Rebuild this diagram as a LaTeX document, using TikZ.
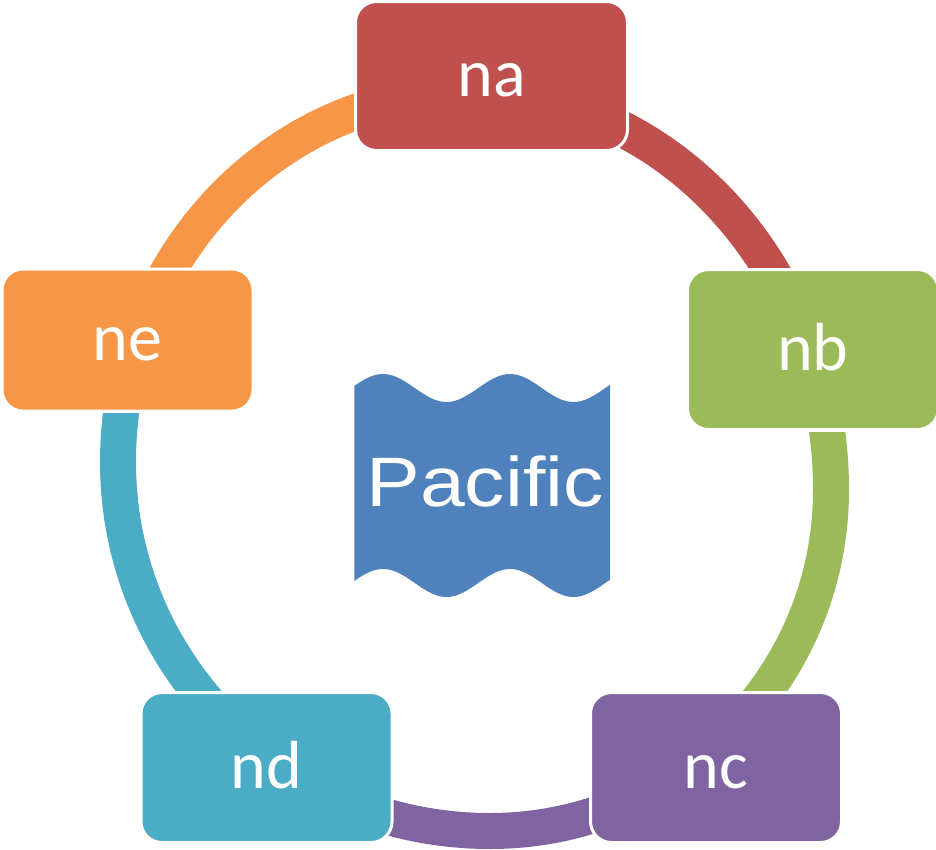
\documentclass[tikz,border=0pt]{standalone}
\usepackage{fontspec}
\setmainfont{Carlito}
\newfontfamily\pacfont{Liberation Sans}
\definecolor{cRed}{HTML}{C0504D}
\definecolor{cGreen}{HTML}{9BBB59}
\definecolor{cPurple}{HTML}{8064A2}
\definecolor{cAqua}{HTML}{4BACC6}
\definecolor{cOrange}{HTML}{F79646}
\definecolor{cBlue}{HTML}{4F81BD}
\newcommand\ringdraw[1]{\draw[band,#1] (470,92) .. controls (669.4,92) and (831,270.2) .. (831,490)
  .. controls (831,678.3) and (678.3,831) .. (490,831)
  .. controls (284.5,831) and (118,665.8) .. (118,462)
  .. controls (118,257.6) and (275.6,92) .. (470,92) -- cycle;}
\begin{document}
\begin{tikzpicture}[x=1pt,y=-1pt,
  cyclebox/.style={rounded corners=21pt, draw=white, line width=3pt, inner sep=0pt, outer sep=0pt,
    text=white, font=\fontsize{68}{72}\selectfont, text height=41pt, text depth=0pt},
  band/.style={line width=36pt}]
\useasboundingbox (0,0) rectangle (936,849);
% ring segments
\begin{scope}\clip (491,-20) rectangle (960,267); \ringdraw{cRed}\end{scope}
\begin{scope}\clip (473,432) rectangle (960,690); \ringdraw{cGreen}\end{scope}
\begin{scope}\clip (-20,700) rectangle (960,880); \ringdraw{cPurple}\end{scope}
\begin{scope}\clip (-20,413) rectangle (473,690); \ringdraw{cAqua}\end{scope}
\begin{scope}\clip (-20,-20) rectangle (491,267); \ringdraw{cOrange}\end{scope}
% boxes
\node[cyclebox, fill=cRed, minimum width=272pt, minimum height=149pt] (na) at (491.5,76) {na};
\node[cyclebox, fill=cGreen, minimum width=251pt, minimum height=160pt] (nb) at (813,349.5) {nb};
\node[cyclebox, fill=cPurple, minimum width=251pt, minimum height=150pt] (nc) at (716,767.5) {nc};
\node[cyclebox, fill=cAqua, minimum width=251pt, minimum height=150pt] (nd) at (266.5,767.5) {nd};
\node[cyclebox, fill=cOrange, minimum width=251pt, minimum height=142pt] (ne) at (127.5,340) {ne};
% centre wave banner
\fill[cBlue] plot[domain=354.3:610, samples=80] (\x,{388-14*cos(2.83465*(\x-383))})
  -- plot[domain=610:354.3, samples=80] (\x,{583-14*cos(2.83465*(\x-383))}) -- cycle;
\node[text=white, font=\pacfont\fontsize{70}{72}\selectfont, anchor=base, inner sep=0pt] (pac) at (485,506.7) {\scalebox{1.15}[1]{Pacific}};
\end{tikzpicture}
\end{document}
